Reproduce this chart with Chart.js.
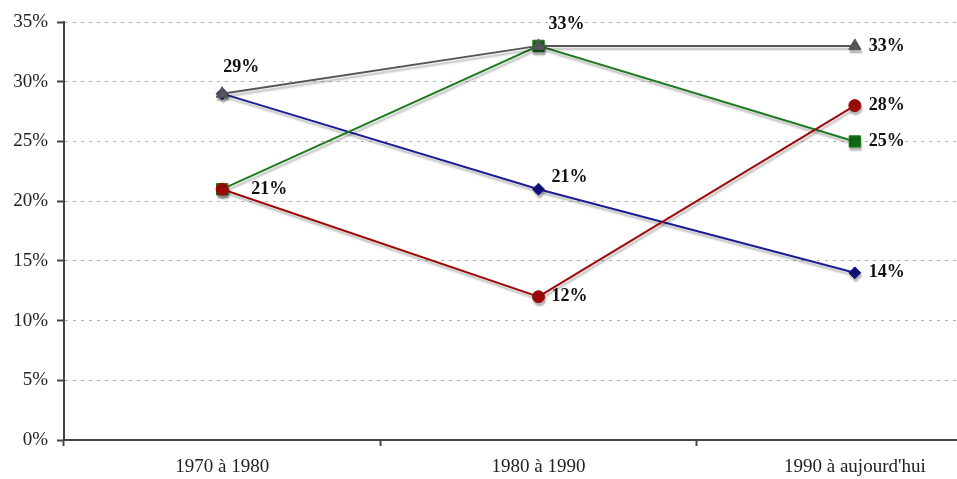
<!DOCTYPE html>
<html>
<head>
<meta charset="utf-8">
<script src="https://cdn.jsdelivr.net/npm/chart.js@4"></script>
<style>
  html, body { margin: 0; padding: 0; overflow: hidden; background: #fff; }
  #wrap { position: absolute; left: 0; top: 0; width: 1022px; height: 479px; }
</style>
</head>
<body>
<div id="wrap"><canvas id="grafico"></canvas></div>
<script>
const categorias = ['1970 à 1980', '1980 à 1990', "1990 à aujourd'hui"]

const serieBleue = [29, 21, 14]
const serieGrise = [29, 33, 33]
const serieVerte = [21, 33, 25]
const serieRouge = [21, 12, 28]

const ticksY = [0, 5, 10, 15, 20, 25, 30, 35]

// décalage des étiquettes (dx, dy) ; null = pas d'étiquette
const etiqBleue = [null, [31, -12], [14, 0]]
const etiqGrise = [[19, -26], [28, -22], [14, 0]]
const etiqVerte = [null, null, [14, 0]]
const etiqRouge = [[29, 0], [13, 0], [14, 0]]

const ombre = {
  id: 'ombre',
  beforeDatasetDraw(chart) {
    const c = chart.ctx
    c.save()
    c.shadowColor = 'rgba(0,0,0,0.28)'
    c.shadowOffsetX = 1
    c.shadowOffsetY = 3
    c.shadowBlur = 2
  },
  afterDatasetDraw(chart) {
    chart.ctx.restore()
  }
}

const etiquettes = {
  id: 'etiquettes',
  afterDatasetsDraw(chart) {
    const c = chart.ctx
    c.save()
    c.font = 'bold 18px "Liberation Serif", "Times New Roman", serif'
    c.fillStyle = '#111'
    c.textBaseline = 'middle'
    chart.data.datasets.forEach((ds, i) => {
      const meta = chart.getDatasetMeta(i)
      meta.data.forEach((pt, j) => {
        const off = ds.etiq[j]
        if (!off) return
        c.textAlign = off[1] !== 0 ? 'center' : 'left'
        c.fillText(ds.data[j] + '%', pt.x + off[0], pt.y + off[1])
      })
    })
    c.restore()
  }
}

const serif = '"Liberation Serif", "Times New Roman", serif'

// order le plus bas = dessiné au-dessus
new Chart(document.getElementById('grafico'), {
  type: 'line',
  data: {
    labels: categorias,
    datasets: [
      { label: 'gris', data: serieGrise, etiq: etiqGrise, order: 0,
        borderColor: '#555', backgroundColor: '#5a5a5a', pointStyle: 'triangle', pointRadius: 7 },
      { label: 'rouge', data: serieRouge, etiq: etiqRouge, order: 1,
        borderColor: '#9e0a0a', backgroundColor: '#9e0a0a', pointStyle: 'circle', pointRadius: 6 },
      { label: 'vert', data: serieVerte, etiq: etiqVerte, order: 2,
        borderColor: '#1f7a1f', backgroundColor: '#0f6a14', pointStyle: 'rect', pointRadius: 8 },
      { label: 'bleu', data: serieBleue, etiq: etiqBleue, order: 3,
        borderColor: '#1c1c96', backgroundColor: '#10107a', pointStyle: 'rectRot', pointRadius: 6 }
    ]
  },
  options: {
    responsive: true,
    maintainAspectRatio: false,
    animation: false,
    layout: { padding: { top: 22, right: 0, left: 0, bottom: 0 } },
    elements: {
      line: { borderWidth: 2, tension: 0 },
      point: { borderWidth: 1 }
    },
    plugins: { legend: { display: false }, tooltip: { enabled: false } },
    scales: {
      x: {
        offset: true,
        grid: { offset: true, drawOnChartArea: false, drawTicks: true, tickLength: 6, tickColor: '#444', tickWidth: 2 },
        border: { color: '#444', width: 2 },
        ticks: { color: '#222', padding: 10, font: { family: serif, size: 19 } },
        afterFit: s => { s.height = 39 }
      },
      y: {
        min: 0,
        max: 35,
        afterBuildTicks: s => { s.ticks = ticksY.map(v => ({ value: v })) },
        grid: { color: '#b0b0b0', tickColor: '#444', tickWidth: 2, tickLength: 7, tickBorderDash: [] },
        border: { color: '#444', width: 2, dash: [3, 5] },
        ticks: { color: '#222', padding: 9, font: { family: serif, size: 19 }, callback: v => v + '%' },
        afterFit: s => { s.width = 64 }
      }
    }
  },
  plugins: [ombre, etiquettes]
})
</script>
</body>
</html>
